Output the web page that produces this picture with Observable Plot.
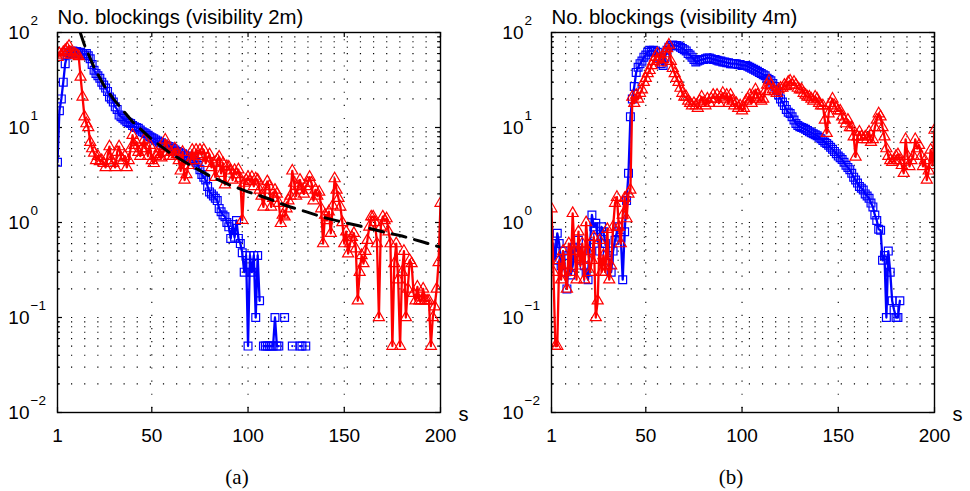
<!DOCTYPE html>
<html><head><meta charset="utf-8">
<script src="https://cdn.jsdelivr.net/npm/d3@7"></script>
<script src="https://cdn.jsdelivr.net/npm/@observablehq/plot@0.6"></script>
<style>
body{margin:0;background:#fff;}
#wrap{display:flex;width:970px;height:491px;background:#fff;}
#wrap svg{display:block;}
</style></head><body><div id="wrap"></div>
<script>
const seconds = d3.range(1, 201);
const xTicks = [1, 50, 100, 150, 200];
const xGrid = [50, 100, 150];
const decades = [0.01, 0.1, 1, 10, 100];
const decadeExps = ["\u22122", "\u22121", "0", "1", "2"];
const titles = ["No. blockings (visibility 2m)", "No. blockings (visibility 4m)"];
const captions = ["(a)", "(b)"];
const xUnit = "s";

// panel (a): visibility 2m
const aBlue = [
  4.3, 15, 20, 30, 47, 58, 62, 60, 64, 62,
  63, 60, 62, 60, 58, 60, 57, 53, 46, 40,
  37, 35, 33, 30, 28, 26, 24, 21, 20, 18.5,
  16.5, 15.5, 13.5, 13, 12.5, 12, 11.5, 11.2, 11, 10.5,
  10.2, 10, 9.8, 9.4, 9, 8.8, 8.6, 8.3, 8, 7.8,
  7.6, 7.4, 7.2, 7.0, 6.9, 6.7, 6.5, 6.4, 6.3, 6.1,
  6.0, 5.8, 5.6, 5.5, 5.4, 5.3, 5.1, 5.0, 4.9, 4.7,
  4.6, 4.5, 4.3, 4.0, 3.6, 3.2, 3.0, 2.8, 2.4, 2.1,
  2.0, 1.9, 1.8, 1.7, 1.4, 1.3, 1.2, 1.15, 1.0, 0.9,
  0.68, 0.95, 0.7, 1.05, 0.68, 0.6, 0.48, 0.3, 0.45, 0.05,
  0.45, 0.3, 0.45, 0.1, 0.45, 0.15, null, 0.05, 0.05, 0.05,
  0.05, 0.05, 0.05, 0.1, 0.05, 0.05, null, null, 0.1, null,
  null, null, 0.05, null, null, null, 0.05, 0.05, null, 0.05,
  null, null, null, null, null, null, null, null, null, null,
  null, null, null, null, null, null, null, null, null, null,
  null, null, null, null, null, null, null, null, null, null,
  null, null, null, null, null, null, null, null, null, null,
  null, null, null, null, null, null, null, null, null, null,
  null, null, null, null, null, null, null, null, null, null,
  null, null, null, null, null, null, null, null, null, null
];
const aRed = [
  55, 60, 58, 62, 65, 68, 72, 62, 58, 60,
  58, 56, 34, 21, 13, 11, 10, 7, 6, 5.4,
  4.5, 5, 4.4, 4.5, 4.2, 3.8, 5, 6.3, 4.5, 4.2,
  3.8, 5.5, 6.3, 4.8, 4.5, 5, 3.8, 4.5, 6, 8.3,
  6.5, 7, 5.5, 5, 6, 7.4, 6, 5, 6.5, 4.5,
  4.2, 5, 5.2, 6, 4.8, 5.5, 7.4, 6.3, 5, 5.5,
  5, 6, 5.2, 4.5, 3.5, 5.5, 2.8, 3.2, 4, 4.5,
  5.8, 4.5, 5.8, 5.0, 5.8, 5.2, 5.8, 4.2, 4.8, 5.2,
  3.8, 4.2, 3.0, 4.6, 4.9, 3.3, 4.2, 2.5, 3.9, 3.85,
  3.5, 2.8, 3.55, 3.2, 3.6, 2.9, 1.06, 2.6, 2.8, 3.0,
  2.7, 3.0, 2.4, 2.9, 2.8, 2.2, 1.9, 1.46, 2.2, 2.7,
  2.4, 1.46, 1.8, 2.2, 2.0, 1.6, 0.98, 1.2, 1.15, 1.4,
  1.7, 1.9, 3.5, 2.6, 1.9, 2.4, 2.8, 2.2, 2.0, 2.4,
  2.6, 3.0, 2.6, 1.7, 2.2, 1.9, 2.1, 1.4, 0.6, 1.2,
  1.05, 1.3, 0.77, 1.5, 2.9, 2.2, 1.8, 1.46, 1.0, 0.6,
  0.8, 0.47, 0.6, 0.7, 0.77, 0.53, 0.15, 0.3, 0.45, 0.37,
  0.5, 0.65, 0.9, 1.15, 1.15, 1.0, 0.6, 0.1, 0.9, 1.15,
  1.05, 1.1, 0.8, 0.6, 0.05, 0.37, 0.6, 0.25, 0.05, 0.3,
  0.5, 0.1, 0.2, 0.4, 0.37, 0.18, 0.15, 0.21, 0.15, 0.15,
  0.2, 0.15, 0.15, 0.15, 0.05, 0.1, 0.13, 0.2, 0.38, 1.6
];
const aFitS = [12.8, 15, 20, 25, 30, 40, 50, 60, 70, 80, 90, 100, 110, 120, 130, 140, 150, 160, 170, 180, 190, 200];
const aFitV = [100, 74, 43, 28, 20, 11.5, 7.5, 5.3, 4.0, 3.1, 2.5, 2.1, 1.8, 1.5, 1.3, 1.12, 1.0, 0.9, 0.8, 0.72, 0.63, 0.55];

// panel (b): visibility 4m
const bBlue = [
  0.45, 0.6, 0.4, 0.77, 0.6, 0.35, 0.5, 0.3, 0.2, 0.45,
  0.28, 0.35, 0.55, 0.5, 0.65, 0.4, 0.5, 0.35, 0.3, 0.25,
  0.6, 1.2, 0.9, 0.98, 0.7, 0.5, 0.9, 0.8, 0.6, 0.45,
  0.4, 0.3, 0.5, 0.65, 0.8, 0.9, 0.7, 0.25, 0.8, 1.7,
  3.3, 13, 20, 27, 38, 43, 47, 50, 55, 58,
  62, 65, 63, 65, 64, 62, 55, 47, 45, 55,
  65, 70, 73, 74, 73, 73, 72, 70, 68, 66,
  64, 60, 58, 55, 52, 49, 50, 51, 52, 52,
  53, 54, 54, 53, 52, 52, 51, 50, 50, 49,
  49, 48, 48, 47, 47, 47, 47, 46, 46, 45,
  45, 45, 44, 43, 42, 41, 40, 39, 38, 37,
  36, 35, 33, 32, 31, 29, 27, 25, 22, 20,
  18.5, 17, 15.5, 14.5, 14, 13, 12, 11, 10.5, 10.2,
  10, 9.8, 9.6, 9.3, 9, 8.8, 8.6, 8.4, 8.2, 7.9,
  7.6, 7.3, 7, 6.8, 6.5, 6.2, 5.9, 5.6, 5.3, 5.0,
  4.8, 4.6, 4.3, 4.0, 3.8, 3.6, 3.3, 3.0, 2.8, 2.6,
  2.4, 2.3, 2.2, 2.0, 1.9, 1.8, 1.6, 1.46, 1.2, 1.05,
  0.85, 0.83, 0.4, 0.45, 0.1, 0.5, 0.3, 0.15, 0.12, 0.1,
  0.1, 0.15, null, null, null, null, null, null, null, null,
  null, null, null, null, null, null, null, null, null, null
];
const bRed = [
  1.4, 0.3, 0.05, 0.05, 0.4, 0.25, 0.5, 0.3, 0.2, 0.6,
  0.3, 1.25, 0.5, 0.25, 0.8, 0.35, 0.6, 0.25, 1.0, 0.5,
  0.3, 0.4, 0.7, 0.1, 0.15, 0.65, 0.3, 0.45, 0.3, 0.85,
  0.25, 0.35, 0.9, 1.6, 1.85, 0.9, 0.6, 1.2, 1.8, 1.1,
  2.0, 2.2, 21, 18, 22, 20, 23, 25, 30, 33,
  37, 40, 45, 50, 55, 60, 52, 48, 52, 60,
  68, 74, 50, 42, 37, 33, 30, 26, 23, 21,
  21, 19, 18, 17, 18, 17, 16, 19, 21, 18,
  17, 20, 18, 20, 22, 20, 22, 18, 21, 23,
  20, 22, 18, 22, 19, 17, 18, 16, 17, 15,
  16, 19, 20, 22, 18, 21, 25, 22, 20, 19,
  20, 24, 28, 31, 28, 25, 24, 23, 25, 26,
  26, 28, 27, 30, 31, 28, 30, 28, 26, 25,
  25, 23, 22, 21, 21, 20, 19, 21, 20, 18,
  17, 17, 12, 8.7, 14, 18, 20, 17, 16, 15,
  15, 13, 12, 11, 12, 10, 10, 8, 4.9, 8,
  9, 8, 7.5, 8, 7.5, 9, 7, 7.5, 10, 12,
  14, 13, 10, 8, 6, 5, 4.5, 4.3, 4.5, 5,
  5.2, 4.5, 4, 3.3, 7.5, 5, 3.9, 4.5, 5, 7.5,
  6, 6.5, 5, 3.9, 4.5, 2.8, 3.5, 5.8, 4, 9.4
];

const FONT = "'Liberation Sans', Arial, Helvetica, sans-serif";
const SERIF = "'Liberation Serif', 'DejaVu Serif', serif";

function panel({title, caption, blue, red, fitS, fitV, ml, mr}) {
  const W = 485, H = 491, mt = 32, mb = 79;
  const pw = W - ml - mr, ph = H - mt - mb;
  const blueData = seconds.map((x, i) => ({s: x, v: blue[i]}));
  const redData = seconds.map((x, i) => ({s: x, v: red[i]}));
  const fitData = fitS ? fitS.map((x, i) => ({s: x, v: fitV[i]})) : [];
  const gridY = [];
  const minorY = [];
  for (let k = -2; k <= 1; k++) {
    for (let m = 1; m <= 9; m++) {
      const v = m * Math.pow(10, k);
      if (!(k === -2 && m === 1)) gridY.push(v);
      if (m > 1) minorY.push(v);
    }
  }
  const marks = [
    Plot.ruleY(gridY, {y: d => d, stroke: "#000", strokeWidth: 1.1, strokeDasharray: "1.2 11.93", strokeDashoffset: 12.26}),
    Plot.ruleX(xGrid, {x: d => d, stroke: "#000", strokeWidth: 1.1, strokeDasharray: "1.2 11.93", strokeDashoffset: 6}),
    // ticks (inward)
    Plot.tickX(xTicks, {x: d => d, insetTop: ph - 5, stroke: "#000", strokeWidth: 1.2}),
    Plot.tickX(xTicks, {x: d => d, insetBottom: ph - 5, stroke: "#000", strokeWidth: 1.2}),
    Plot.tickY(decades, {y: d => d, insetRight: pw - 5, stroke: "#000", strokeWidth: 1.2}),
    Plot.tickY(decades, {y: d => d, insetLeft: pw - 5, stroke: "#000", strokeWidth: 1.2}),
    Plot.tickY(minorY, {y: d => d, insetRight: pw - 3, stroke: "#000", strokeWidth: 1}),
    Plot.tickY(minorY, {y: d => d, insetLeft: pw - 3, stroke: "#000", strokeWidth: 1}),
    // data
    Plot.line(blueData, {x: "s", y: "v", stroke: "#0000ff", strokeWidth: 2.3, clip: true}),
    Plot.dot(blueData, {x: "s", y: "v", symbol: "square", r: 4.4, stroke: "#0000ff", strokeWidth: 1.2, fill: "none", clip: true}),
    Plot.line(redData, {x: "s", y: "v", stroke: "#ff0000", strokeWidth: 2.3, clip: true}),
    Plot.dot(redData, {x: "s", y: "v", symbol: "triangle", r: 4.1, stroke: "#ff0000", strokeWidth: 1.2, fill: "none", clip: true}),
    Plot.line(fitData, {x: "s", y: "v", stroke: "#000", strokeWidth: 3, strokeDasharray: "14 9", clip: true}),
    Plot.frame({stroke: "#000", strokeWidth: 1.4}),
    // labels
    Plot.text([title], {frameAnchor: "top-left", textAnchor: "start", lineAnchor: "bottom", dy: -8.5, fontSize: 20.4, fill: "#000"}),
    Plot.text(decades, {y: d => d, text: () => "10", frameAnchor: "left", textAnchor: "end", lineAnchor: "middle", dx: -28, fontSize: 19, fill: "#000"}),
    Plot.text(decades, {y: d => d, text: (d, i) => decadeExps[i], frameAnchor: "left", textAnchor: "start", lineAnchor: "middle", dx: -27, dy: -12, fontSize: 13.5, fill: "#000"}),
    Plot.text(xTicks, {x: d => d, text: d => String(d), frameAnchor: "bottom", lineAnchor: "bottom", dy: 29.7, fontSize: 19, fill: "#000"}),
    Plot.text([xUnit], {frameAnchor: "bottom-right", textAnchor: "start", lineAnchor: "bottom", dx: 18, dy: 8, fontSize: 20, fill: "#000"}),
    Plot.text([caption], {frameAnchor: "bottom", lineAnchor: "bottom", dx: -12, dy: 71, fontSize: 21, fontFamily: SERIF, fill: "#000"})
  ];
  return Plot.plot({
    width: W, height: H,
    marginLeft: ml, marginRight: mr, marginTop: mt, marginBottom: mb,
    x: {domain: [1, 200], axis: null},
    y: {type: "log", domain: [0.01, 100], axis: null},
    style: {fontFamily: FONT, fontSize: "19px", background: "#fff", color: "#000", overflow: "visible"},
    marks
  });
}

const wrap = document.getElementById("wrap");
wrap.appendChild(panel({title: titles[0], caption: captions[0], blue: aBlue, red: aRed, fitS: aFitS, fitV: aFitV, ml: 57, mr: 45}));
wrap.appendChild(panel({title: titles[1], caption: captions[1], blue: bBlue, red: bRed, fitS: null, fitV: null, ml: 66, mr: 36}));
</script>
</body></html>
